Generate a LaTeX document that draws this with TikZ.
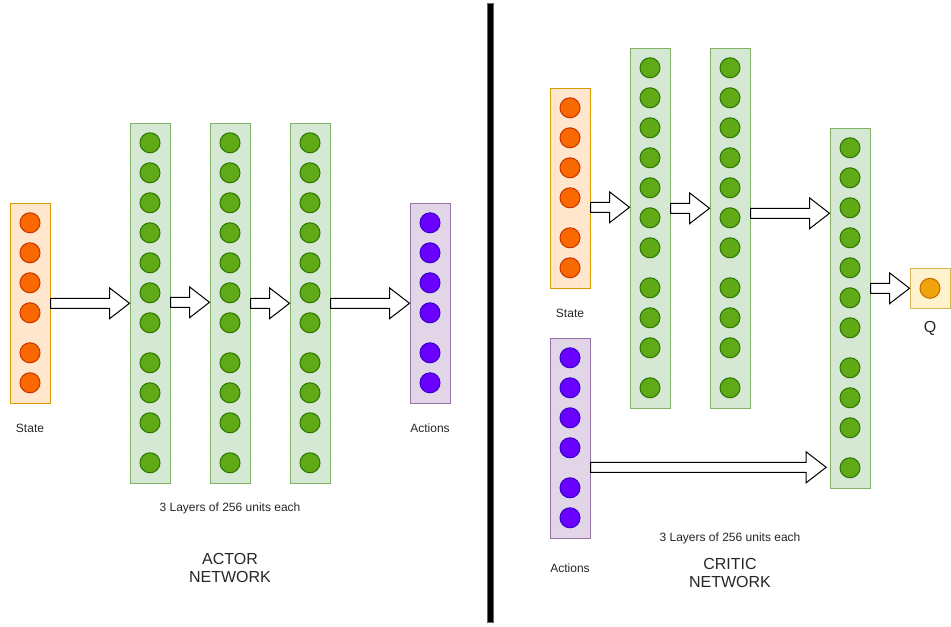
\documentclass[tikz,border=0pt]{standalone}
\usepackage{fontspec}
\setmainfont{Liberation Sans}
\usetikzlibrary{calc}
\definecolor{stfill}{HTML}{FFE6CC}
\definecolor{stdraw}{HTML}{D79B00}
\definecolor{stcfill}{HTML}{FA6800}
\definecolor{stcdraw}{HTML}{C73500}
\definecolor{gfill}{HTML}{D5E8D4}
\definecolor{gdraw}{HTML}{82B366}
\definecolor{gcfill}{HTML}{60A917}
\definecolor{gcdraw}{HTML}{2D7600}
\definecolor{afill}{HTML}{E1D5E7}
\definecolor{adraw}{HTML}{9673A6}
\definecolor{acfill}{HTML}{6A00FF}
\definecolor{acdraw}{HTML}{3700CC}
\definecolor{qfill}{HTML}{FFF2CC}
\definecolor{qdraw}{HTML}{D6B656}
\definecolor{qcfill}{HTML}{F0A30A}
\definecolor{qcdraw}{HTML}{BD7000}
\definecolor{divdraw}{HTML}{666666}
% #1 gap before target (pt), #2 from node, #3 to node, #4 y (px)
\newcommand\blockarr[4][0pt]{%
  \draw[blockarrow] let \p1=(#2.east), \p2=($(#3.west)+(-#1,0)$), \p3=(0,#4) in
  (\x1,{\y3+3.75pt}) -- ({\x2-15pt},{\y3+3.75pt}) -- ({\x2-15pt},{\y3+11.6pt}) --
  (\x2,\y3) -- ({\x2-15pt},{\y3-11.6pt}) -- ({\x2-15pt},{\y3-3.75pt}) --
  (\x1,{\y3-3.75pt}) -- cycle;}
\begin{document}
\begin{tikzpicture}[x=0.75pt,y=-0.75pt,
  layer/.style={rectangle,inner sep=0pt,minimum width=30pt,line width=0.75pt},
  stbox/.style={layer,minimum height=150pt,fill=stfill,draw=stdraw},
  abox/.style={layer,minimum height=150pt,fill=afill,draw=adraw},
  gbox/.style={layer,minimum height=270pt,fill=gfill,draw=gdraw},
  qbox/.style={layer,minimum height=30pt,fill=qfill,draw=qdraw},
  unit/.style={circle,inner sep=0pt,minimum size=15pt,line width=0.75pt},
  stc/.style={unit,fill=stcfill,draw=stcdraw},
  gc/.style={unit,fill=gcfill,draw=gcdraw},
  ac/.style={unit,fill=acfill,draw=acdraw},
  qc/.style={unit,fill=qcfill,draw=qcdraw},
  blockarrow/.style={draw=black,fill=white,line width=0.75pt,line join=miter},
  small/.style={font=\fontsize{9}{11}\selectfont,text=black!85},
  qlab/.style={font=\fontsize{12}{14}\selectfont,text=black!85},
  big/.style={font=\fontsize{12}{14}\selectfont,align=center,text=black!85}]
\useasboundingbox (0,0) rectangle (951,627);

% ---------- ACTOR ----------
\node[stbox] (as) at (30,303.3) {};
\node[gbox] (ag1) at (150,303.3) {};
\node[gbox] (ag2) at (230,303.3) {};
\node[gbox] (ag3) at (310,303.3) {};
\node[abox] (aa) at (430,303.3) {};
\foreach \o [count=\i] in {20,50,80,110,150,180} {
  \node[stc] (as-\i) at ($(as.north)+(0,\o)$) {};
  \node[ac] (aa-\i) at ($(aa.north)+(0,\o)$) {};
}
\foreach \b in {ag1,ag2,ag3} {
  \foreach \o [count=\i] in {20,50,80,110,140,170,200,240,270,300,340}
    \node[gc] (\b-\i) at ($(\b.north)+(0,\o)$) {};
}
\blockarr{as}{ag1}{303.3}
\blockarr{ag1}{ag2}{302.3}
\blockarr{ag2}{ag3}{303.3}
\blockarr{ag3}{aa}{303.3}
\node[small] (asl) at (30,428) {State};
\node[small] (aal) at (430,428) {Actions};
\node[small] (alay) at (230,508) {3 Layers of 256 units each};
\node[big] (atitle) at (230,568) {ACTOR\\NETWORK};

% ---------- divider ----------
\fill[black,draw=divdraw,line width=0.5pt] (487.3,3.5) rectangle (493.7,622.5);

% ---------- CRITIC ----------
\node[stbox] (cs) at (570,188.3) {};
\node[abox] (ca) at (570,438.3) {};
\node[gbox] (cg1) at (650,228.3) {};
\node[gbox] (cg2) at (730,228.3) {};
\node[gbox] (cg3) at (850,308.3) {};
\node[qbox] (q) at (930,288.3) {};
\node[qc] (q-1) at (q) {};
\foreach \o [count=\i] in {20,50,80,110,150,180} {
  \node[stc] (cs-\i) at ($(cs.north)+(0,\o)$) {};
  \node[ac] (ca-\i) at ($(ca.north)+(0,\o)$) {};
}
\foreach \b in {cg1,cg2,cg3} {
  \foreach \o [count=\i] in {20,50,80,110,140,170,200,240,270,300,340}
    \node[gc] (\b-\i) at ($(\b.north)+(0,\o)$) {};
}
\blockarr{cs}{cg1}{207.3}
\blockarr{cg1}{cg2}{208.3}
\blockarr{cg2}{cg3}{213.3}
\blockarr{cg3}{q}{288.3}
\blockarr[2.5pt]{ca}{cg3}{467.3}
\node[small] (csl) at (570,313) {State};
\node[small] (cal) at (570,568) {Actions};
\node[qlab] (ql) at (930,328) {Q};
\node[small] (clay) at (730,538) {3 Layers of 256 units each};
\node[big] (ctitle) at (730,573) {CRITIC\\NETWORK};
\end{tikzpicture}
\end{document}
